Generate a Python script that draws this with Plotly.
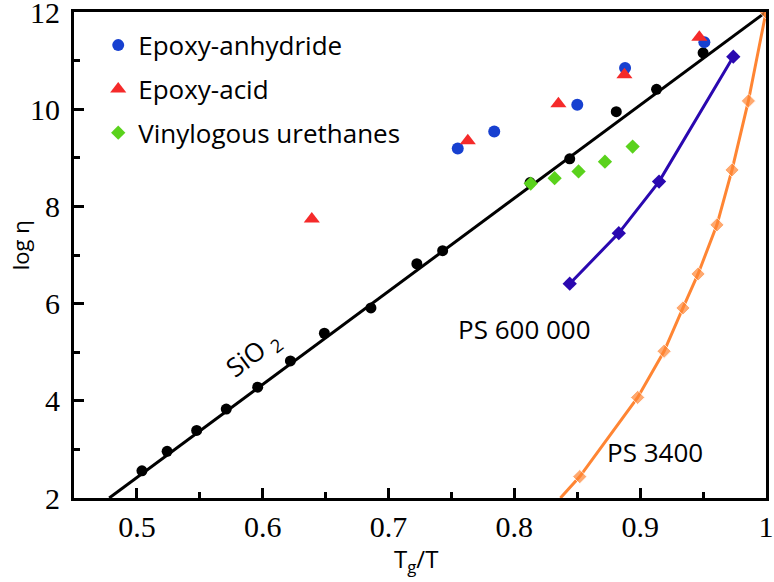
import plotly.graph_objects as go

# ---------------- data ----------------
sio2_x = [0.504, 0.524, 0.5475, 0.571, 0.596, 0.622, 0.649, 0.686, 0.7225, 0.743,
          0.8125, 0.844, 0.881, 0.913, 0.950]
sio2_y = [2.56, 2.96, 3.39, 3.83, 4.28, 4.82, 5.39, 5.91, 6.82, 7.09,
          8.49, 8.98, 9.95, 10.41, 11.16]
sio2_fit_x = [0.478, 1.0]
sio2_fit_y = [2.0, 12.0]

anhydride_x = [0.755, 0.784, 0.850, 0.888, 0.951]
anhydride_y = [9.19, 9.54, 10.09, 10.85, 11.38]

acid_x = [0.639, 0.763, 0.835, 0.8875, 0.947]
acid_y = [7.74, 9.35, 10.11, 10.71, 11.48]

vu_x = [0.813, 0.832, 0.851, 0.872, 0.894]
vu_y = [8.47, 8.58, 8.72, 8.92, 9.23]

ps600k_x = [0.844, 0.883, 0.915, 0.974]
ps600k_y = [6.41, 7.45, 8.51, 11.08]

ps3400_x = [0.8366, 0.852, 0.898, 0.919, 0.934, 0.946, 0.961, 0.973, 0.986, 1.0]
ps3400_y = [2.0, 2.44, 4.07, 5.02, 5.91, 6.61, 7.62, 8.75, 10.17, 12.0]
ps3400_marker = [False, True, True, True, True, True, True, True, True, True]

x_ticks = [0.5, 0.6, 0.7, 0.8, 0.9, 1.0]
x_ticktext = ["0.5", "0.6", "0.7", "0.8", "0.9", "1"]
x_minor = [0.55, 0.65, 0.75, 0.85, 0.95]
y_ticks = [2, 4, 6, 8, 10, 12]
y_minor = [3, 5, 7, 9, 11]

# ---------------- styles ----------------
SANS = "Open Sans"
SERIF = "Liberation Serif"
BLACK = "#000000"
BLUE = "#1740d0"
RED = "#f52a2a"
GREEN = "#5ad21c"
PURPLE = "#2a08b0"
ORANGE = "#ff8533"

fig = go.Figure()

fig.add_trace(go.Scatter(x=sio2_fit_x, y=sio2_fit_y, mode="lines",
                         line=dict(color=BLACK, width=3), showlegend=False,
                         hoverinfo="skip"))
fig.add_trace(go.Scatter(x=sio2_x, y=sio2_y, mode="markers",
                         marker=dict(color=BLACK, size=11, symbol="circle"),
                         showlegend=False))

fig.add_trace(go.Scatter(x=ps600k_x, y=ps600k_y, mode="lines+markers",
                         line=dict(color=PURPLE, width=3),
                         marker=dict(color=PURPLE, size=11, symbol="diamond"),
                         showlegend=False))
fig.add_trace(go.Scatter(x=ps3400_x, y=ps3400_y, mode="lines+markers",
                         line=dict(color=ORANGE, width=3),
                         marker=dict(color=ORANGE, symbol="diamond",
                                     size=[11 if m else 0 for m in ps3400_marker]),
                         showlegend=False))

fig.add_trace(go.Scatter(x=anhydride_x, y=anhydride_y, mode="markers",
                         name="Epoxy-anhydride", legendgroup="a",
                         marker=dict(color=BLUE, size=12, symbol="circle")))
fig.add_trace(go.Scatter(x=acid_x, y=acid_y, mode="markers",
                         name="Epoxy-acid", legendgroup="b",
                         marker=dict(color=RED, size=14, symbol="triangle-up")))
fig.add_trace(go.Scatter(x=vu_x, y=vu_y, mode="markers",
                         name="Vinylogous urethanes", legendgroup="c",
                         marker=dict(color=GREEN, size=11, symbol="diamond")))

axis_common = dict(showline=True, linecolor=BLACK, linewidth=3, mirror=True,
                   ticks="inside", ticklen=10, tickwidth=2.5, tickcolor=BLACK,
                   showgrid=False, zeroline=False, ticklabeloverflow="allow",
                   automargin=False,
                   tickfont=dict(family=SERIF, size=30, color=BLACK))

fig.update_xaxes(range=[0.45, 1.0], tickmode="array", tickvals=x_ticks,
                 ticktext=x_ticktext,
                 minor=dict(tickmode="array", tickvals=x_minor, ticks="inside",
                            ticklen=6, tickwidth=2.5, tickcolor=BLACK),
                 **axis_common)
fig.update_yaxes(range=[2, 12], tickmode="array", tickvals=y_ticks,
                 ticklabelstandoff=5,
                 minor=dict(tickmode="array", tickvals=y_minor, ticks="inside",
                            ticklen=6, tickwidth=2.5, tickcolor=BLACK),
                 **axis_common)

# axis titles (paper annotations so their position is controlled exactly)
fig.add_annotation(x=0.494, y=-0.128, xref="paper", yref="paper",
                   text="T<sub>g</sub>/T", showarrow=False,
                   xanchor="center", yanchor="middle",
                   font=dict(family=SANS, size=24, color=BLACK))
fig.add_annotation(x=-0.078, y=0.52, xref="paper", yref="paper",
                   text="log η", showarrow=False, textangle=-90,
                   xanchor="center", yanchor="middle",
                   font=dict(family=SANS, size=22, color=BLACK))

fig.add_annotation(x=0.592, y=4.96, text="SiO <sub>2</sub>", showarrow=False,
                   textangle=-37, font=dict(family=SANS, size=26, color=BLACK))
fig.add_annotation(x=0.808, y=5.47, text="PS 600 000", showarrow=False,
                   font=dict(family=SANS, size=26, color=BLACK))
fig.add_annotation(x=0.9116, y=2.94, text="PS 3400", showarrow=False,
                   font=dict(family=SANS, size=26, color=BLACK))

fig.update_layout(
    width=774, height=582,
    margin=dict(l=74, r=8, t=12, b=84),
    paper_bgcolor="white", plot_bgcolor="white",
    legend=dict(x=0.035, y=0.98, xanchor="left", yanchor="top",
                traceorder="grouped", tracegroupgap=7,
                font=dict(family=SANS, size=26, color=BLACK),
                bgcolor="rgba(0,0,0,0)", itemclick=False),
)

fig.write_html("out.html", config={"displayModeBar": False},
               post_script="document.body.style.margin='0px';")
